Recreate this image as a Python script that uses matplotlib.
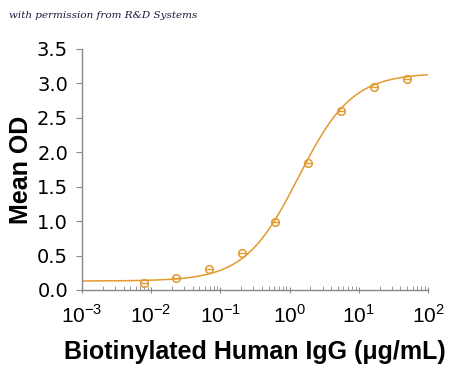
import matplotlib
matplotlib.use("Agg")
import matplotlib.pyplot as plt
import numpy as np
from matplotlib.ticker import LogLocator, NullFormatter

plt.rcParams['font.family'] = ['Liberation Sans', 'DejaVu Sans']
plt.rcParams['mathtext.fontset'] = 'custom'
plt.rcParams['mathtext.rm'] = 'Liberation Sans'

# concentration (ug/mL) and mean OD
conc = [0.0080, 0.0226, 0.069, 0.205, 0.615, 1.85, 5.5, 16.4, 49.8]
od = [0.10, 0.17, 0.31, 0.54, 0.99, 1.84, 2.60, 2.95, 3.06]

# 4PL fit parameters (bottom, top, EC50, hill)
fit_bottom, fit_top, fit_ec50, fit_hill = 0.13, 3.15, 1.35, 1.12

x_ticks = [1e-3, 1e-2, 1e-1, 1e0, 1e1, 1e2]
x_ticklabels = ['10$^{-3}$', '10$^{-2}$', '10$^{-1}$', '10$^{0}$', '10$^{1}$', '10$^{2}$']
y_ticks = [0.0, 0.5, 1.0, 1.5, 2.0, 2.5, 3.0, 3.5]

color = '#E39A2E'

fig = plt.figure(figsize=(4.5, 3.68), dpi=100)
ax = fig.add_axes([0.182, 0.212, 0.769, 0.655])

xs = np.logspace(-3, 2, 300)
ys = fit_bottom + (fit_top - fit_bottom) / (1 + (fit_ec50 / xs) ** fit_hill)
ax.plot(xs, ys, color=color, lw=1.1)
ax.plot(conc, od, 'o', mfc='none', mec=color, ms=5.5, mew=1.1)
ax.plot(conc, od, '_', color=color, ms=5.5, mew=1.0)

ax.set_xscale('log')
ax.set_xlim(1e-3, 1e2)
ax.set_ylim(0, 3.5)
ax.set_yticks(y_ticks)
ax.set_yticklabels(['%.1f' % v for v in y_ticks], family='DejaVu Sans', fontsize=14)
ax.set_xticks(x_ticks)
ax.set_xticklabels(x_ticklabels, fontsize=15)
ax.xaxis.set_minor_locator(LogLocator(base=10, subs=np.arange(2, 10), numticks=10))
ax.xaxis.set_minor_formatter(NullFormatter())

for s in ['top', 'right']:
    ax.spines[s].set_visible(False)
for s in ['left', 'bottom']:
    ax.spines[s].set_color('#888888')
    ax.spines[s].set_linewidth(1.0)

ax.tick_params(axis='y', direction='out', length=4, color='#888888', pad=6)
ax.tick_params(axis='x', which='major', direction='inout', length=5, color='#888888', pad=8)
ax.tick_params(axis='x', which='minor', direction='in', length=3, color='#888888')

ax.set_xlabel('Biotinylated Human IgG (\u03bcg/mL)', fontsize=18, fontweight='bold', labelpad=9)
ax.set_ylabel('Mean OD', fontsize=18, fontweight='bold', labelpad=3)

fig.text(0.02, 0.952, 'with permission from R&D Systems', fontsize=7.5, style='italic',
         family='serif', color='#1a1a3a')

fig.savefig('out.png', dpi=100)
